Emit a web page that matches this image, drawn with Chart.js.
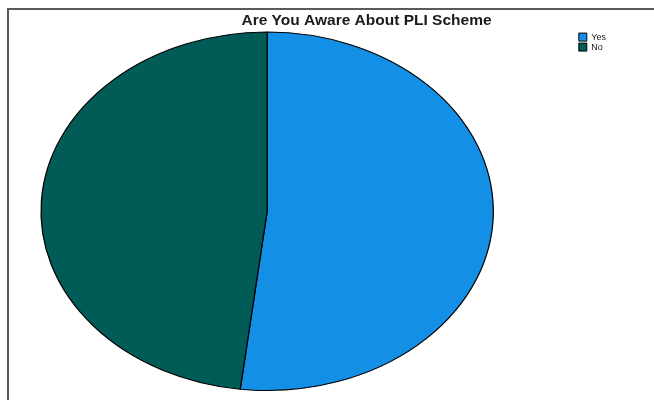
<!DOCTYPE html>
<html>
<head>
<meta charset="utf-8">
<script src="https://cdn.jsdelivr.net/npm/chart.js@4/dist/chart.umd.min.js"></script>
<style>
    html, body { margin: 0; padding: 0; background: #fff; overflow: hidden; }
    #wrap { position: relative; width: 654px; height: 400px; }
    /* marco gris del gráfico SPSS (sigue más allá del recorte) */
    #frame {
        position: absolute; left: 7px; top: 8px; width: 800px; height: 500px;
        border-top: 2px solid #5a5a5a; border-left: 2px solid #5a5a5a;
    }
    #chart1 { position: absolute; left: 0; top: 0; }
</style>
</head>
<body>
<div id="wrap">
    <div id="frame"></div>
    <canvas id="chart1" width="654" height="400"></canvas>
</div>
<script>
// Datos
const labels = ['Yes', 'No'];
const percentages = [51.9, 48.1];
const colors = ['#1390e6', '#015b57'];

// SPSS dibuja la tarta como una elipse pegada a la izquierda del área del gráfico
const ellipsePie = {
    id: 'ellipsePie',
    beforeDatasetsDraw(chart, args, opts) {
        const arc = chart.getDatasetMeta(0).data[0];
        const ctx = chart.ctx;
        const left = chart.chartArea.left;
        ctx.save();
        ctx.translate(left - opts.aspect * (arc.x - arc.outerRadius), 0);
        ctx.scale(opts.aspect, 1);
    },
    afterDatasetsDraw(chart) {
        chart.ctx.restore();
    },
};

// el título va centrado sobre todo el marco, no sobre la tarta
const frameTitle = {
    id: 'frameTitle',
    afterLayout(chart, args, opts) {
        chart.titleBlock.left = opts.left;
        chart.titleBlock.right = opts.right;
    },
};

function createAwarenessChart() {
    const ctx = document.getElementById('chart1').getContext('2d');
    const chartData = {
        labels: labels,
        datasets: [
            {
                data: percentages,
                backgroundColor: colors,
                borderColor: '#000',
                borderWidth: 1,
            },
        ],
    };
    const chartOptions = {
        responsive: false,
        animation: false,
        events: [],
        layout: {
            padding: { top: 8, left: 41, right: 38, bottom: 9 },
        },
        plugins: {
            ellipsePie: { aspect: 1.262 },
            frameTitle: { left: 7, right: 726 },
            title: {
                display: true,
                text: 'Are You Aware About PLI Scheme',
                color: '#1a1a1a',
                font: { family: 'Liberation Sans, Arial, sans-serif', size: 15.5, weight: 'bold' },
                padding: { top: 3, bottom: 2 },
            },
            legend: {
                position: 'right',
                align: 'start',
                fullSize: false,
                labels: {
                    boxWidth: 8,
                    boxHeight: 8,
                    padding: 1,
                    color: '#1a1a1a',
                    font: { family: 'Liberation Sans, Arial, sans-serif', size: 9 },
                },
            },
            tooltip: { enabled: false },
        },
    };

    new Chart(ctx, {
        type: 'pie',
        data: chartData,
        options: chartOptions,
        plugins: [ellipsePie, frameTitle],
    });
}

createAwarenessChart();
</script>
</body>
</html>
